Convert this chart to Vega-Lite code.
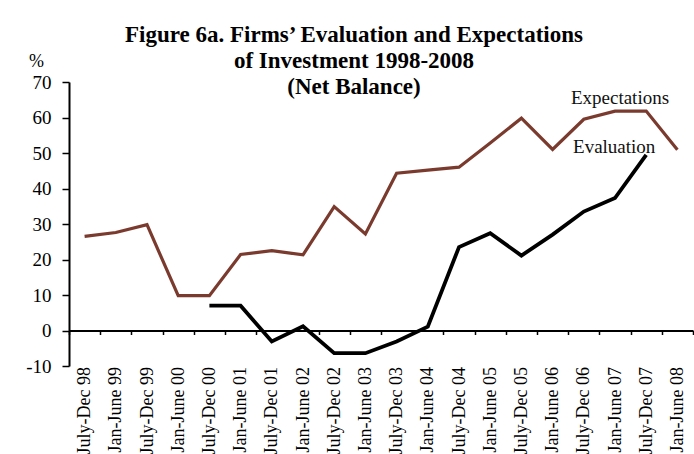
{
  "$schema": "https://vega.github.io/schema/vega-lite/v6.json",
  "width": 624,
  "height": 284,
  "autosize": {"type": "none"},
  "padding": {"top": 82, "left": 69, "right": 1, "bottom": 88},
  "background": "white",
  "title": {
    "text": ["Figure 6a. Firms’ Evaluation and Expectations", "of Investment 1998-2008", "(Net Balance)"],
    "font": "Liberation Serif",
    "fontSize": 23,
    "fontWeight": "bold",
    "color": "black",
    "lineHeight": 26,
    "anchor": "middle",
    "frame": "group",
    "dx": -27,
    "offset": -47
  },
  "config": {
    "view": {"stroke": null},
    "font": "Liberation Serif",
    "axis": {"grid": false, "labelFont": "Liberation Serif", "labelColor": "black", "titleFont": "Liberation Serif", "domainColor": "black", "tickColor": "black"}
  },
  "data": {
    "values": [
      {"period": "July-Dec 98", "series": "Expectations", "value": 26.5},
      {"period": "Jan-June 99", "series": "Expectations", "value": 27.6},
      {"period": "July-Dec 99", "series": "Expectations", "value": 29.8},
      {"period": "Jan-June 00", "series": "Expectations", "value": 9.8},
      {"period": "July-Dec 00", "series": "Expectations", "value": 9.8},
      {"period": "Jan-June 01", "series": "Expectations", "value": 21.4},
      {"period": "July-Dec 01", "series": "Expectations", "value": 22.5},
      {"period": "Jan-June 02", "series": "Expectations", "value": 21.3},
      {"period": "July-Dec 02", "series": "Expectations", "value": 34.9},
      {"period": "Jan-June 03", "series": "Expectations", "value": 27.2},
      {"period": "July-Dec 03", "series": "Expectations", "value": 44.3},
      {"period": "Jan-June 04", "series": "Expectations", "value": 45.2},
      {"period": "July-Dec 04", "series": "Expectations", "value": 46.0},
      {"period": "Jan-June 05", "series": "Expectations", "value": 52.8},
      {"period": "July-Dec 05", "series": "Expectations", "value": 59.8},
      {"period": "Jan-June 06", "series": "Expectations", "value": 51.0},
      {"period": "July-Dec 06", "series": "Expectations", "value": 59.5},
      {"period": "Jan-June 07", "series": "Expectations", "value": 61.8},
      {"period": "July-Dec 07", "series": "Expectations", "value": 61.8},
      {"period": "Jan-June 08", "series": "Expectations", "value": 50.9},
      {"period": "July-Dec 00", "series": "Evaluation", "value": 7.0},
      {"period": "Jan-June 01", "series": "Evaluation", "value": 7.0},
      {"period": "July-Dec 01", "series": "Evaluation", "value": -3.1},
      {"period": "Jan-June 02", "series": "Evaluation", "value": 1.2},
      {"period": "July-Dec 02", "series": "Evaluation", "value": -6.4},
      {"period": "Jan-June 03", "series": "Evaluation", "value": -6.4},
      {"period": "July-Dec 03", "series": "Evaluation", "value": -3.1},
      {"period": "Jan-June 04", "series": "Evaluation", "value": 1.1},
      {"period": "July-Dec 04", "series": "Evaluation", "value": 23.5},
      {"period": "Jan-June 05", "series": "Evaluation", "value": 27.4},
      {"period": "July-Dec 05", "series": "Evaluation", "value": 21.1},
      {"period": "Jan-June 06", "series": "Evaluation", "value": 27.0},
      {"period": "July-Dec 06", "series": "Evaluation", "value": 33.5},
      {"period": "Jan-June 07", "series": "Evaluation", "value": 37.3},
      {"period": "July-Dec 07", "series": "Evaluation", "value": 49.5}
    ]
  },
  "encoding": {
    "x": {
      "field": "period",
      "type": "nominal",
      "sort": null,
      "scale": {"type": "band", "paddingInner": 0, "paddingOuter": 0},
      "axis": {
        "title": null,
        "offset": -35.5,
        "labelAngle": -90,
        "labelAlign": "right",
        "labelBaseline": "middle",
        "labelFontSize": 18,
        "labelPadding": 32,
        "tickBand": "extent",
        "tickSize": 4,
        "tickWidth": 1.5,
        "domainWidth": 2
      }
    },
    "y": {
      "field": "value",
      "type": "quantitative",
      "scale": {"domain": [-10, 70], "nice": false, "zero": false},
      "axis": {
        "values": [-10, 0, 10, 20, 30, 40, 50, 60, 70],
        "labelExpr": "'' + datum.value",
        "labelFontSize": 19,
        "title": "%",
        "titleAngle": 0,
        "titleFontSize": 18,
        "titleFontWeight": "normal",
        "titleColor": "black",
        "titleAlign": "center",
        "titleBaseline": "alphabetic",
        "titleX": -33,
        "titleY": -16,
        "tickSize": 7,
        "tickWidth": 1.5,
        "domainWidth": 2,
        "labelPadding": 11
      }
    }
  },
  "layer": [
    {
      "mark": {"type": "line", "strokeJoin": "miter"},
      "encoding": {
        "color": {"field": "series", "type": "nominal", "scale": {"domain": ["Expectations", "Evaluation"], "range": ["#7a3b2e", "#000000"]}, "legend": null},
        "strokeWidth": {"field": "series", "type": "nominal", "scale": {"domain": ["Expectations", "Evaluation"], "range": [3.2, 3.8]}, "legend": null}
      }
    },
    {
      "transform": [{"filter": "datum.series === 'Expectations' && datum.period === 'Jan-June 07'"}],
      "mark": {"type": "text", "align": "center", "baseline": "alphabetic", "dx": 5, "dy": -7, "fontSize": 19, "font": "Liberation Serif", "color": "#111111"},
      "encoding": {"text": {"field": "series"}}
    },
    {
      "transform": [{"filter": "datum.series === 'Evaluation' && datum.period === 'July-Dec 07'"}],
      "mark": {"type": "text", "align": "center", "baseline": "alphabetic", "dx": -32, "dy": -2, "fontSize": 19, "font": "Liberation Serif", "color": "#111111"},
      "encoding": {"text": {"field": "series"}}
    }
  ]
}
